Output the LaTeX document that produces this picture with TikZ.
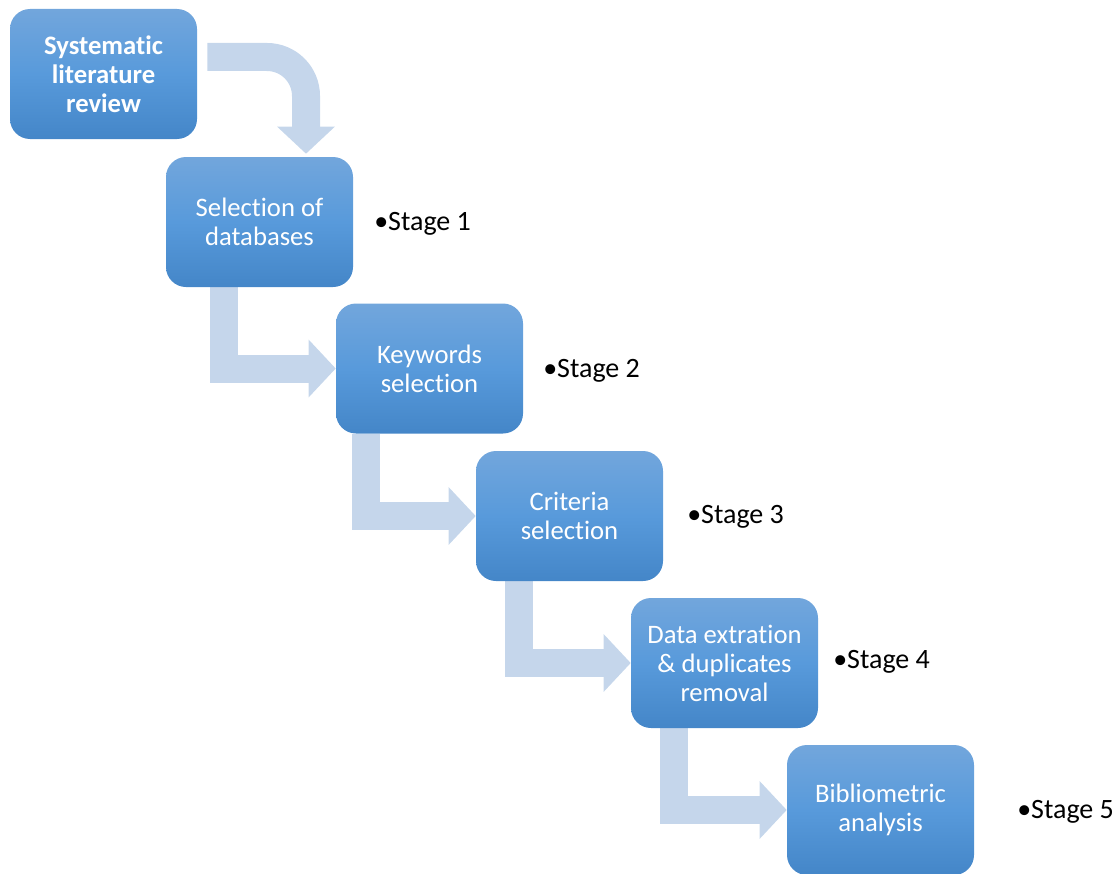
\documentclass[tikz,border=0pt]{standalone}
\usepackage{fontspec}
\setmainfont{Carlito}[Ligatures=NoCommon]
\usetikzlibrary{arrows.meta,calc,backgrounds}
\definecolor{arrowblue}{RGB}{197,214,235}
\definecolor{boxtop}{RGB}{114,166,220}
\definecolor{boxmid}{RGB}{88,154,219}
\definecolor{boxbot}{RGB}{68,134,200}
\begin{document}
\begin{tikzpicture}[x=0.75pt,y=-0.75pt,
  stagebox/.style={rectangle, rounded corners=15pt, minimum width=140.25pt,
    minimum height=97.5pt, inner sep=0pt, top color=boxtop, bottom color=boxbot,
    middle color=boxmid, text=white, align=center,
    font=\fontsize{20}{21.75}\selectfont},
  stagelabel/.style={anchor=base west, inner sep=0pt,
    font=\fontsize{21}{25}\selectfont},
  flow/.style={draw=arrowblue, line width=21pt, line join=miter,
    -{Triangle[length=20.25pt,width=42pt]}}
]
\useasboundingbox (0,0) rectangle (1117,874);

\node[stagebox] (b0) at (103.5,74) {\bfseries Systematic\\\bfseries literature\\\bfseries review};
\node[stagebox] (b1) at (259.5,222) {Selection of\\databases};
\node[stagebox] (b2) at (429.5,368.5) {Keywords\\selection};
\node[stagebox] (b3) at (569.5,516) {Criteria\\selection};
\node[stagebox] (b4) at (724.5,663) {Data extration\\\& duplicates\\removal};
\node[stagebox] (b5) at (880.5,810) {Bibliometric\\analysis};

\node[stagelabel] (s1) at (374,230) {•Stage 1};
\node[stagelabel] (s2) at (543,377) {•Stage 2};
\node[stagelabel] (s3) at (687,523) {•Stage 3};
\node[stagelabel] (s4) at (833,668) {•Stage 4};
\node[stagelabel] (s5) at (1017,818) {•Stage 5};

\begin{pgfonlayer}{background}
\draw[flow, rounded corners=29.25pt] ($(b0.east)+(10,-17)$) -| ($(b1.north)+(46.5,-3)$);
\draw[flow] ($(b1.south)+(-36,0)$) |- (b2.west);
\draw[flow] ($(b2.south)+(-63.5,0)$) |- (b3.west);
\draw[flow] ($(b3.south)+(-51,0)$) |- (b4.west);
\draw[flow] ($(b4.south)+(-51,0)$) |- (b5.west);
\end{pgfonlayer}
\end{tikzpicture}
\end{document}
